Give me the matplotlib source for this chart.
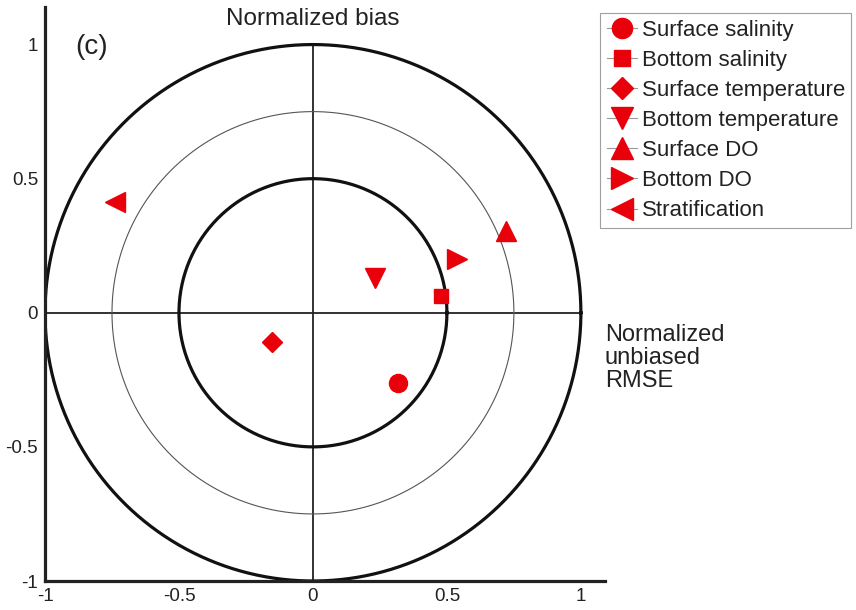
import numpy as np
import matplotlib
matplotlib.use("Agg")
import matplotlib.pyplot as plt
from matplotlib.lines import Line2D

plt.rcParams['font.family'] = ['Liberation Sans', 'DejaVu Sans']

names = ["Surface salinity", "Bottom salinity", "Surface temperature",
         "Bottom temperature", "Surface DO", "Bottom DO", "Stratification"]
urmse = [0.317, 0.478, -0.153, 0.231, 0.720, 0.537, -0.739]
bias = [-0.261, 0.063, -0.108, 0.131, 0.306, 0.201, 0.414]
markers = ["o", "s", "D", "v", "^", ">", "<"]
sizes = [13, 10, 10, 14, 14, 14, 14]
xticks = [-1, -0.5, 0, 0.5, 1]
yticks = [-1, -0.5, 0, 0.5, 1]

fig = plt.figure(figsize=(8.56, 6.10), dpi=100)
ax = fig.add_axes([45/856, 29/610, 560/856, 574/610])
ax.set_xlim(-1, 1.09)
ax.set_ylim(-1, 1.14)

t = np.linspace(0, 2*np.pi, 400)
for r, lw, c in [(1.0, 2.3, '#111111'), (0.75, 0.8, '#555555'), (0.5, 2.3, '#111111')]:
    ax.plot(r*np.cos(t), r*np.sin(t), color=c, lw=lw, zorder=2)
ax.plot([0, 0], [-1, 1], color='#222222', lw=1.3, zorder=1)
ax.plot([-1, 1], [0, 0], color='#222222', lw=1.3, zorder=1)

red = '#e8000b'
for x, y, m, s in zip(urmse, bias, markers, sizes):
    ax.plot(x, y, marker=m, ms=s, color=red, mec=red, ls='none', zorder=3)

for sp in ['top', 'right']:
    ax.spines[sp].set_visible(False)
for sp in ['left', 'bottom']:
    ax.spines[sp].set_linewidth(2.3)
    ax.spines[sp].set_color('#222222')
ax.set_xticks(xticks)
ax.set_xticklabels([f"{v:g}" for v in xticks])
ax.set_yticks(yticks)
ax.set_yticklabels([f"{v:g}" for v in yticks])
ax.tick_params(length=0, labelsize=13.5, colors='#222222', pad=5)

fig.text(313/856, 1 - 19/610, "Normalized bias", ha='center', va='center', fontsize=17.5, color='#222222')
ax.text(-0.825, 0.99, "(c)", fontsize=20, color='#222222', ha='center', va='center')
fig.text(605/856, 1 - 358/610, "Normalized\nunbiased\nRMSE", ha='left', va='center',
         fontsize=17, color='#222222', linespacing=1.08)

handles = [Line2D([0], [0], marker=m, ms=s + 1.5, color='#999999', lw=0.8,
                  mfc=red, mec=red) for m, s in zip(markers, sizes)]
leg = fig.legend(handles, names, loc='upper left', bbox_to_anchor=(600/856, 1 - 13/610),
                 fontsize=16, frameon=True, fancybox=False, handlelength=1.35,
                 handletextpad=0.22, borderpad=0.3, labelspacing=0.41, borderaxespad=0)
leg.get_frame().set_edgecolor('#888888')
leg.get_frame().set_linewidth(0.8)
for txt in leg.get_texts():
    txt.set_color('#222222')

fig.savefig("out.png", dpi=100)
